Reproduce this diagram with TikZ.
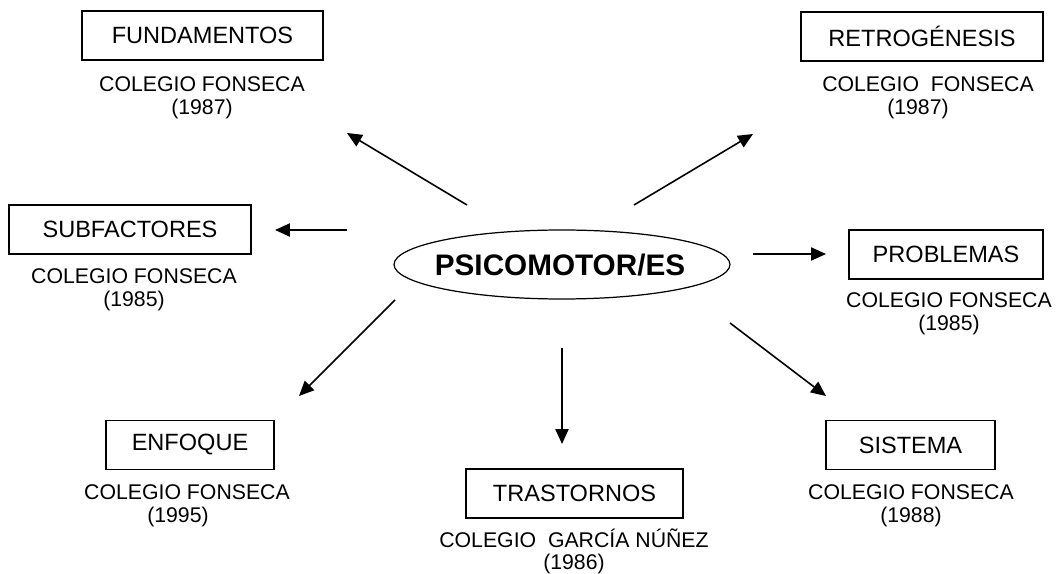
\documentclass[tikz,border=0pt]{standalone}
\usepackage{fontspec}
\setmainfont{Liberation Sans}
\usetikzlibrary{arrows.meta,shapes.geometric}

\begin{document}
\begin{tikzpicture}[x=0.02cm,y=-0.02cm,
  caja/.style={draw,line width=0.8pt,minimum width=#1,minimum height=0.98cm,inner sep=0pt,font=\fontsize{13.4}{16}\selectfont},
  cita/.style={align=center,anchor=north,inner sep=0pt,font=\fontsize{12.1}{13}\selectfont},
  flecha/.style={line width=0.9pt,-{Triangle[length=8.5pt,width=7.5pt]}}]
\useasboundingbox (0,0) rectangle (1056,574);
% centro
\node[ellipse,draw,line width=0.7pt,minimum width=6.72cm,minimum height=1.38cm,inner sep=0pt] (centro) at (562,264.5) {};
\node[inner sep=0pt,font=\fontsize{16.9}{20}\selectfont\bfseries] (centrot) at (560,265) {PSICOMOTOR/ES};
% cajas
\node[caja=4.82cm] (fund) at (202.5,35.5) {FUNDAMENTOS};
\node[caja=4.84cm] (retro) at (922,36.5) {RETROGÉNESIS};
\node[caja=4.84cm] (subf) at (130,229.5) {SUBFACTORES};
\node[caja=3.88cm] (prob) at (946,254.5) {PROBLEMAS};
\node[caja=3.36cm] (enf) at (190,445) {ENFOQUE};
\node[caja=4.34cm] (tras) at (574.5,493.5) {TRASTORNOS};
\node[caja=3.38cm] (sist) at (910.5,445) {SISTEMA};
% autores
\node[cita] (fundc) at (202,76) {COLEGIO FONSECA\\(1987)};
\node[cita] (retroc) at (928,76) {COLEGIO\ \ FONSECA\\(1987)\hspace*{0.4cm}};
\node[cita] (subfc) at (134,268) {COLEGIO FONSECA\\(1985)};
\node[cita] (probc) at (949,292) {COLEGIO FONSECA\\(1985)};
\node[cita] (enfc) at (187,484) {COLEGIO FONSECA\\(1995)\hspace*{0.36cm}};
\node[cita] (trasc) at (574,528) {COLEGIO\ \ GARCÍA NÚÑEZ\\(1986)};
\node[cita] (sistc) at (911,484) {COLEGIO FONSECA\\(1988)};
% flechas
\coordinate (f1) at (467,205); \coordinate (f2) at (347,133);
\coordinate (r1) at (634,205); \coordinate (r2) at (753,134);
\coordinate (s1) at (347,230); \coordinate (s2) at (275,230);
\coordinate (p1) at (753,254); \coordinate (p2) at (826,254);
\coordinate (e1) at (395,300); \coordinate (e2) at (299,396);
\coordinate (t1) at (562,348); \coordinate (t2) at (562,444);
\coordinate (m1) at (730,323); \coordinate (m2) at (826,396);
\draw[flecha] (f1) -- (f2);
\draw[flecha] (r1) -- (r2);
\draw[flecha] (s1) -- (s2);
\draw[flecha] (p1) -- (p2);
\draw[flecha] (e1) -- (e2);
\draw[flecha] (t1) -- (t2);
\draw[flecha] (m1) -- (m2);
\end{tikzpicture}
\end{document}
